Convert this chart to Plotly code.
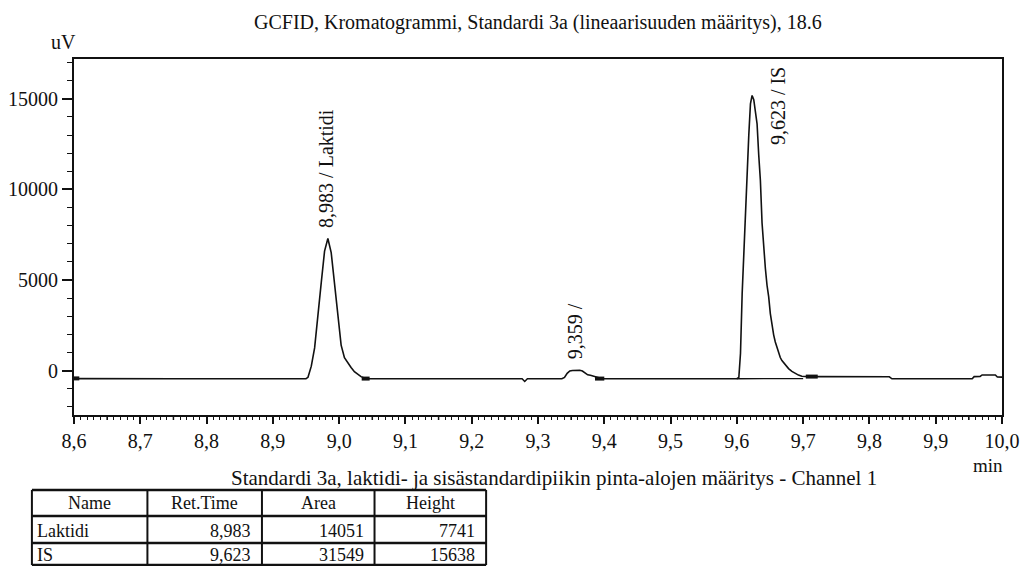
import plotly.graph_objects as go

# ---- chromatogram signal, retention time (min) vs detector response (uV) ----
pre_t = [8.600, 8.650, 8.750, 8.850, 8.950]
pre_uv = [-440, -450, -450, -450, -450]

laktidi_t = [8.953, 8.958, 8.963, 8.968, 8.973, 8.978, 8.983, 8.988, 8.993, 8.998,
             9.003, 9.008, 9.013, 9.018, 9.023, 9.028, 9.033, 9.038, 9.043]
laktidi_uv = [-372, 247, 1253, 2879, 4853, 6594, 7291, 6517, 4736, 2801,
              1408, 711, 402, 169, -63, -218, -334, -404, -450]

mid_t = [9.100, 9.200, 9.276, 9.280, 9.284, 9.336]
mid_uv = [-450, -450, -450, -600, -450, -450]

minor_t = [9.340, 9.344, 9.348, 9.352, 9.356, 9.359, 9.363, 9.367, 9.371, 9.375,
           9.379, 9.383, 9.387, 9.392, 9.397]
minor_uv = [-380, -150, -20, 10, 20, 25, 15, -20, -130, -230,
            -260, -300, -380, -430, -450]

pre_is_t = [9.450, 9.550, 9.600]
pre_is_uv = [-450, -450, -450]

is_t = [9.603, 9.6055, 9.608, 9.6105, 9.613, 9.6155, 9.618, 9.6205, 9.623, 9.6255,
        9.628, 9.6305, 9.633, 9.6355, 9.638, 9.6405, 9.643, 9.6455, 9.648, 9.6505,
        9.653, 9.6555, 9.658, 9.6605, 9.663, 9.6655, 9.668, 9.673, 9.678, 9.683,
        9.688, 9.693, 9.698, 9.703]
is_uv = [-372, 957, 4241, 6431, 9246, 11748, 12999, 14719, 15188, 14954,
         14406, 13624, 11904, 10497, 8151, 6587, 5649, 4711, 4085, 3147,
         2521, 1974, 1583, 1270, 957, 723, 551, 301, 113, -43,
         -153, -247, -309, -325]

tail_t = [9.720, 9.780, 9.830, 9.834, 9.900, 9.955, 9.958, 9.967, 9.970, 9.990, 9.993, 10.000]
tail_uv = [-330, -335, -340, -450, -450, -450, -330, -320, -240, -240, -350, -360]

# integration baseline of the IS peak and peak start/end markers
is_base_t = [9.600, 9.700]
is_base_uv = [-450, -440]
mark_t = [8.600, 8.608, None, 9.034, 9.046, None, 9.386, 9.400, None, 9.704, 9.722]
mark_uv = [-430, -430, None, -440, -440, None, -440, -440, None, -330, -330]

# peak labels
peak_rt = [8.983, 9.359, 9.623]
peak_names = ["Laktidi", "", "IS"]
peak_rt_text = ["8,983", "9,359", "9,623"]

# axis ticks
x_ticks = [8.6, 8.7, 8.8, 8.9, 9.0, 9.1, 9.2, 9.3, 9.4, 9.5, 9.6, 9.7, 9.8, 9.9, 10.0]
x_tick_text = ["8,6", "8,7", "8,8", "8,9", "9,0", "9,1", "9,2", "9,3", "9,4", "9,5",
               "9,6", "9,7", "9,8", "9,9", "10,0"]
x_mid_ticks = [8.65, 8.75, 8.85, 8.95, 9.05, 9.15, 9.25, 9.35, 9.45, 9.55, 9.65, 9.75, 9.85, 9.95]
y_ticks = [0, 5000, 10000, 15000]
y_tick_text = ["0", "5000", "10000", "15000"]

# peak table
table_header = ["Name", "Ret.Time", "Area", "Height"]
table_name = ["Laktidi", "IS"]
table_rt = ["8,983", "9,623"]
table_area = [14051, 31549]
table_height = [7741, 15638]

title_text = "GCFID, Kromatogrammi, Standardi 3a (lineaarisuuden määritys), 18.6"
table_title = "Standardi 3a, laktidi- ja sisästandardipiikin pinta-alojen määritys - Channel 1"

# ---- page geometry (pixels) ----
FIG_W, FIG_H = 1028, 566
L, R, T, B = 72, 1020, 59, 415
PW, PH = R - L, B - T
FONT = "Liberation Serif, Times New Roman, serif"
INK = "#111111"


def px_x(px):
    return (px - L) / PW


def px_y(py):
    return (B - py) / PH


t_all = pre_t + laktidi_t + mid_t + minor_t + pre_is_t + is_t + tail_t
uv_all = pre_uv + laktidi_uv + mid_uv + minor_uv + pre_is_uv + is_uv + tail_uv

fig = go.Figure()
fig.add_trace(go.Scatter(x=t_all, y=uv_all, mode="lines",
                         line=dict(color=INK, width=1.6, shape="linear"),
                         hoverinfo="skip", showlegend=False))
fig.add_trace(go.Scatter(x=is_base_t, y=is_base_uv, mode="lines",
                         line=dict(color=INK, width=1.3),
                         hoverinfo="skip", showlegend=False))
fig.add_trace(go.Scatter(x=mark_t, y=mark_uv, mode="lines",
                         line=dict(color=INK, width=4),
                         hoverinfo="skip", showlegend=False))

annotations = []

# rotated peak labels
label_font = dict(family=FONT, size=20, color=INK)
apex_uv = [max(laktidi_uv), max(minor_uv), max(is_uv)]
for i, rt in enumerate(peak_rt):
    label = f"{peak_rt_text[i]} / {peak_names[i]}".rstrip()
    if i == 2:
        # tallest peak: label sits beside the apex, hanging from the frame top
        annotations.append(dict(x=rt, y=1, xref="x", yref="paper", text=label,
                                textangle=-90, showarrow=False, xanchor="center",
                                yanchor="top", xshift=26, yshift=-6,
                                font=label_font))
    else:
        annotations.append(dict(x=rt, y=apex_uv[i], xref="x", yref="y", text=label,
                                textangle=-90, showarrow=False, xanchor="center",
                                yanchor="bottom", yshift=9, xshift=-2,
                                font=label_font))

# titles and axis units
annotations.append(dict(x=px_x(546), y=px_y(23), xref="paper", yref="paper",
                        text=title_text, showarrow=False, xanchor="center", yanchor="middle",
                        font=dict(family=FONT, size=20, color=INK)))
annotations.append(dict(x=px_x(61), y=px_y(42), xref="paper", yref="paper",
                        text="uV", showarrow=False, xanchor="center", yanchor="middle",
                        font=dict(family=FONT, size=20, color=INK)))
annotations.append(dict(x=px_x(1006), y=px_y(465), xref="paper", yref="paper",
                        text="min", showarrow=False, xanchor="center", yanchor="middle",
                        font=dict(family=FONT, size=19, color=INK)))
annotations.append(dict(x=px_x(562), y=px_y(478), xref="paper", yref="paper",
                        text=table_title, showarrow=False, xanchor="center", yanchor="middle",
                        font=dict(family=FONT, size=21, color=INK)))

shapes = []

# medium x ticks at every 0.05 min
for xv in x_mid_ticks:
    shapes.append(dict(type="line", xref="x", yref="paper", x0=xv, x1=xv,
                       ysizemode="pixel", yanchor=0, y0=0, y1=-5,
                       line=dict(color=INK, width=1.5)))

# peak table drawn with lines and text
col_edges = [29, 147, 264, 379, 493]
row_edges = [490, 516, 543, 565]
for xe in col_edges:
    shapes.append(dict(type="line", xref="paper", yref="paper",
                       x0=px_x(xe), x1=px_x(xe), y0=px_y(row_edges[0]), y1=px_y(row_edges[-1]),
                       line=dict(color=INK, width=2)))
for ye in row_edges:
    shapes.append(dict(type="line", xref="paper", yref="paper",
                       x0=px_x(col_edges[0]), x1=px_x(col_edges[-1]), y0=px_y(ye), y1=px_y(ye),
                       line=dict(color=INK, width=2.5)))

cell_font = dict(family=FONT, size=18, color=INK)
for c, head in enumerate(table_header):
    cx = (col_edges[c] + col_edges[c + 1]) / 2
    cy = (row_edges[0] + row_edges[1]) / 2
    annotations.append(dict(x=px_x(cx), y=px_y(cy), xref="paper", yref="paper", text=head,
                            showarrow=False, xanchor="center", yanchor="middle", font=cell_font))
for r in range(len(table_name)):
    cy = (row_edges[r + 1] + row_edges[r + 2]) / 2 + 1
    row_vals = [table_name[r], table_rt[r], str(table_area[r]), str(table_height[r])]
    for c, val in enumerate(row_vals):
        if c == 0:
            xpos, anchor = col_edges[c] + 3, "left"
        else:
            xpos, anchor = col_edges[c + 1] - 9, "right"
        annotations.append(dict(x=px_x(xpos), y=px_y(cy), xref="paper", yref="paper", text=val,
                                showarrow=False, xanchor=anchor, yanchor="middle", font=cell_font))

fig.update_layout(
    width=FIG_W, height=FIG_H,
    margin=dict(l=L, r=FIG_W - R, t=T, b=FIG_H - B, pad=0),
    paper_bgcolor="white", plot_bgcolor="white",
    showlegend=False,
    annotations=annotations,
    shapes=shapes,
    xaxis=dict(range=[8.6, 10.0], tickvals=x_ticks, ticktext=x_tick_text,
               ticks="outside", ticklen=7, tickwidth=1.5, tickcolor=INK,
               ticklabeloverflow="allow",
               minor=dict(tick0=8.6, dtick=0.01, ticks="outside", ticklen=3,
                          tickwidth=1, tickcolor=INK),
               showline=True, linecolor=INK, linewidth=2, mirror=True,
               showgrid=False, zeroline=False,
               tickfont=dict(family=FONT, size=20, color=INK)),
    yaxis=dict(range=[-2450, 17200], tickvals=y_ticks, ticktext=y_tick_text,
               ticks="outside", ticklen=10, tickwidth=1.5, tickcolor=INK,
               minor=dict(tick0=0, dtick=1000, ticks="outside", ticklen=5,
                          tickwidth=1, tickcolor=INK),
               showline=True, linecolor=INK, linewidth=2, mirror=True,
               showgrid=False, zeroline=False,
               tickfont=dict(family=FONT, size=20, color=INK)),
)

fig.write_html("out.html")
